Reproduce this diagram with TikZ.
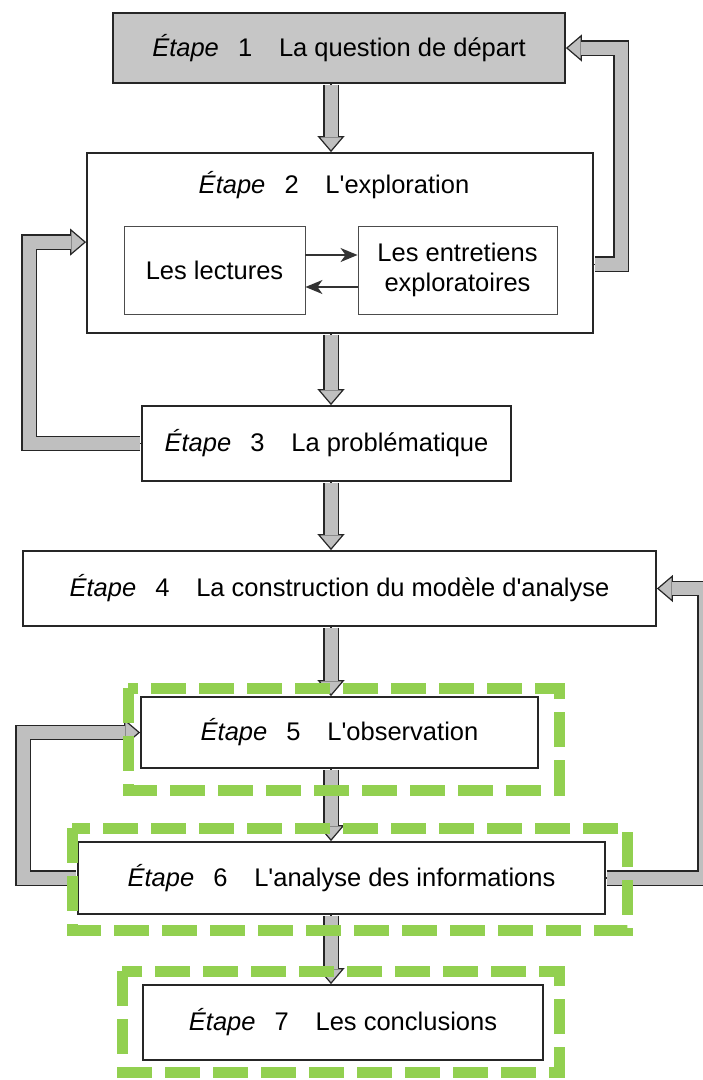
\documentclass[tikz,border=0pt]{standalone}
\usepackage{fontspec}
\setmainfont{Liberation Sans}
\usepackage{xcolor}
\usepackage{tikz}
\usetikzlibrary{arrows.meta,positioning}
\definecolor{vert}{HTML}{92D050}
\newcommand{\etape}[2]{\textit{Étape}\hspace{0.75em}#1\hspace{1.05em}#2}

\begin{document}
\begin{tikzpicture}[x=1pt,y=-1pt,
  font=\fontsize{25.5}{30}\selectfont,
  etapebox/.style={draw=black!85,line width=1.8pt,inner sep=0pt,fill=white},
  sousbox/.style={draw=black!70,line width=0.9pt,inner sep=0pt,align=center},
  flowhead/.style={draw=black!85,line width=1.2pt,-{Triangle[length=16pt,width=27pt,fill=gray!50]}},
  flowshaft/.style={draw=black!85,line width=1.2pt,double=gray!50,double distance=13pt,shorten <=1pt,shorten >=15pt},
  petite/.style={draw=black!80,line width=1.5pt,-{Stealth[length=17pt,width=14pt,inset=5pt]}},
  cadre/.style={draw=vert,line width=11pt,dash pattern=on 35pt off 13pt}]
\useasboundingbox (0,0) rectangle (703,1080);

\node[etapebox,fill=gray!45,minimum width=452pt,minimum height=70pt] (e1) at (339,48) {\etape{1}{La question de départ}};
\node[etapebox,minimum width=506pt,minimum height=180pt] (e2) at (340,243) {};
\node (t2) at (334,185) {\etape{2}{L\textquotesingle exploration}};
\node[sousbox,minimum width=181pt,minimum height=88pt] (lect) at (214.5,270) {Les lectures};
\node[sousbox,minimum width=199pt,minimum height=88pt] (entr) at (457.5,270) {Les entretiens\\exploratoires};
\node[etapebox,minimum width=369pt,minimum height=75pt] (e3) at (326.5,443.5) {\etape{3}{La problématique}};
\node[etapebox,minimum width=633pt,minimum height=75pt] (e4) at (339.5,588.5) {\etape{4}{La construction du modèle d\textquotesingle analyse}};
\node[etapebox,minimum width=397pt,minimum height=71pt] (e5) at (339.5,732.5) {\etape{5}{L\textquotesingle observation}};
\node[etapebox,minimum width=527pt,minimum height=72pt] (e6) at (341.5,878) {\etape{6}{L\textquotesingle analyse des informations}};
\node[etapebox,minimum width=400pt,minimum height=75pt] (e7) at (343,1022.5) {\etape{7}{Les conclusions}};

\draw[petite] ([yshift=15pt]lect.east) -- ([yshift=15pt]entr.west);
\draw[petite] ([yshift=-17pt]entr.west) -- ([yshift=-17pt]lect.east);

\coordinate (axe) at (331,0);
\coordinate (l1) at (29,0);
\coordinate (l2) at (23,0);
\coordinate (r1) at (621,0);
\coordinate (r2) at (705,0);
\coordinate (in2) at ([yshift=-90pt]e2.north west);
\coordinate (out2) at ([yshift=-112pt]e2.north east);

\draw[flowhead] (e1.south -| axe) -- (e2.north -| axe);
\draw[flowshaft] (e1.south -| axe) -- (e2.north -| axe);
\draw[flowhead] (e2.south -| axe) -- (e3.north -| axe);
\draw[flowshaft] (e2.south -| axe) -- (e3.north -| axe);
\draw[flowhead] (e3.south -| axe) -- (e4.north -| axe);
\draw[flowshaft] (e3.south -| axe) -- (e4.north -| axe);
\draw[flowhead] (e4.south -| axe) -- (e5.north -| axe);
\draw[flowshaft] (e4.south -| axe) -- (e5.north -| axe);
\draw[flowhead] (e5.south -| axe) -- (e6.north -| axe);
\draw[flowshaft] (e5.south -| axe) -- (e6.north -| axe);
\draw[flowhead] (e6.south -| axe) -- (e7.north -| axe);
\draw[flowshaft] (e6.south -| axe) -- (e7.north -| axe);

\draw[flowhead] (out2) -| (r1 |- e1.east) -- (e1.east);
\draw[flowshaft] (out2) -| (r1 |- e1.east) -- (e1.east);
\draw[flowhead] (e3.west) -| (l1 |- in2) -- (in2);
\draw[flowshaft] (e3.west) -| (l1 |- in2) -- (in2);
\draw[flowhead] (e6.east) -| (r2 |- e4.east) -- (e4.east);
\draw[flowshaft] (e6.east) -| (r2 |- e4.east) -- (e4.east);
\draw[flowhead] (e6.west) -| (l2 |- e5.west) -- (e5.west);
\draw[flowshaft] (e6.west) -| (l2 |- e5.west) -- (e5.west);

\draw[cadre] (128,688) rectangle (559,790);
\draw[cadre] (72,828) rectangle (627,930);
\draw[cadre] (122,971) rectangle (559,1072);
\end{tikzpicture}
\end{document}
